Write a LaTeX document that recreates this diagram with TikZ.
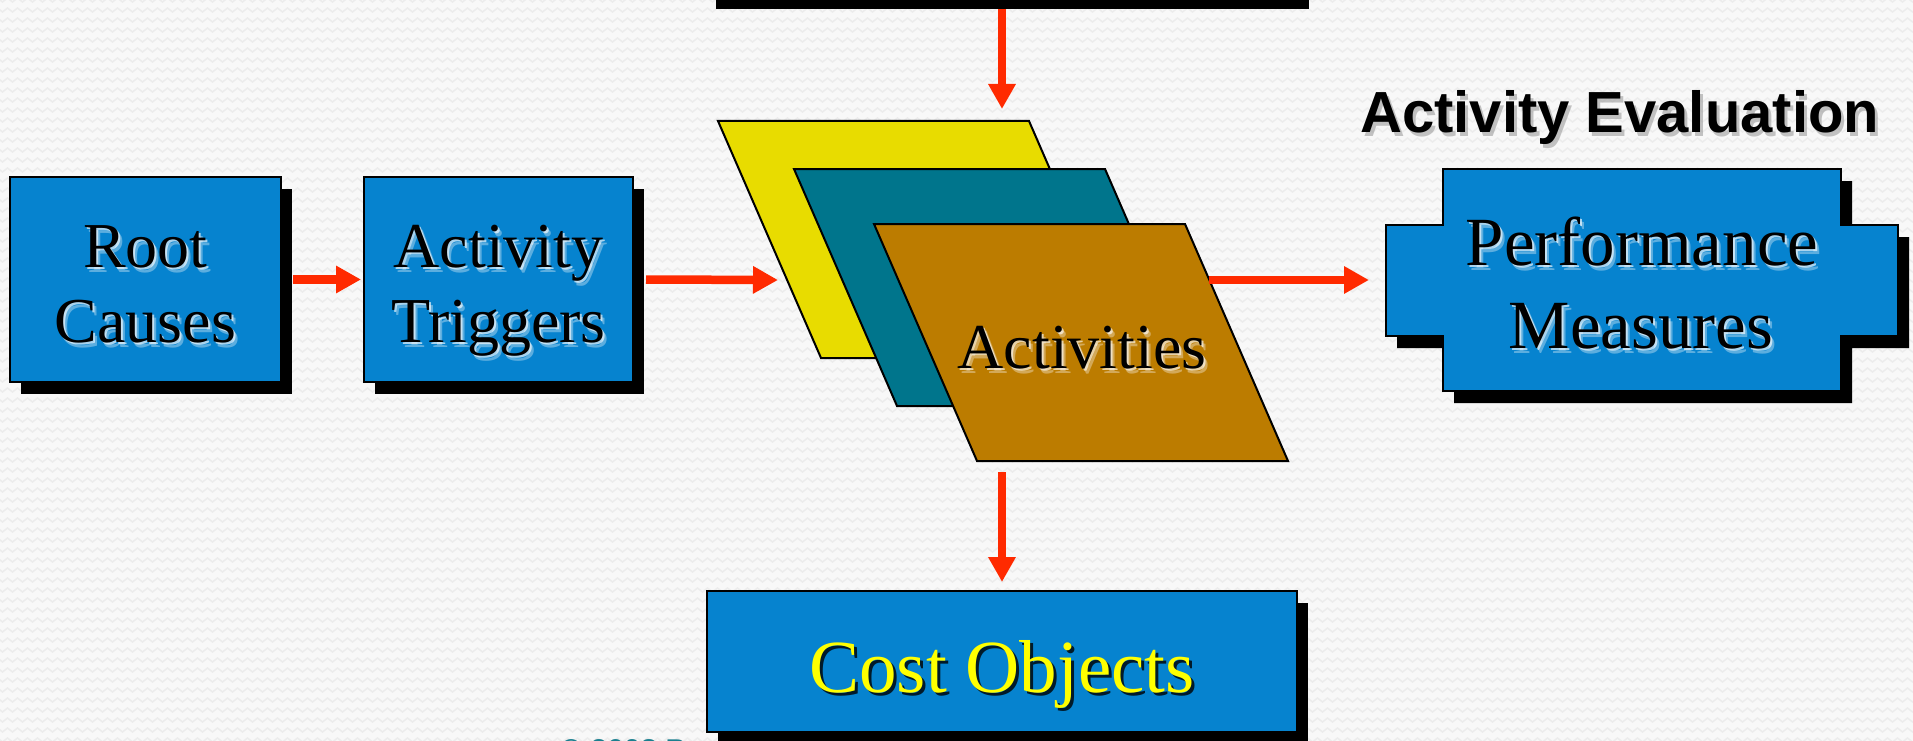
\documentclass[tikz,border=0pt]{standalone}
\usepackage{fontspec}
\setmainfont{Liberation Serif}
\newfontfamily\headfont{Liberation Sans}
\usetikzlibrary{arrows.meta,calc,shadows,decorations.pathmorphing}

\definecolor{paper}{HTML}{F8F8F8}
\definecolor{weave}{HTML}{ECECEC}
\definecolor{boxblue}{HTML}{0683CF}
\definecolor{flowred}{HTML}{FF2A00}
\definecolor{sheetyellow}{HTML}{E8DC00}
\definecolor{sheetteal}{HTML}{00758C}
\definecolor{sheetbrown}{HTML}{BC7C00}
\definecolor{costyellow}{HTML}{FFFF00}
\definecolor{notecol}{HTML}{1A7F8F}

\tikzset{
  flow/.style={draw=flowred, line width=8.5pt, -{Triangle[length=25pt,width=26pt]}},
  bluebox/.style={rectangle, draw=black, line width=2pt, fill=boxblue, inner sep=0pt,
    drop shadow={shadow xshift=11pt, shadow yshift=-12pt, opacity=1, fill=black}},
  sheet/.style={draw=black, line width=2pt, line join=miter},
  serif63/.style={font=\fontsize{64}{75}\selectfont, text=black, inner sep=0pt},
  serif69/.style={font=\fontsize{69}{83}\selectfont, text=black, inner sep=0pt},
  serif75/.style={font=\fontsize{75}{90}\selectfont, inner sep=0pt},
  heading/.style={font=\headfont\bfseries\fontsize{58}{70}\selectfont, inner sep=0pt},
}

% black label with a soft light halo below right
\newcommand\haloed[4]{%
  \node[#3, text=white, opacity=.35, anchor=base] at ($(#2)+(4,5)$) {#4};
  \node[#3, text=white, opacity=.65, anchor=base] at ($(#2)+(2,2.5)$) {#4};
  \node[#3, anchor=base] (#1) at (#2) {#4};
}

\begin{document}
\begin{tikzpicture}[x=1pt, y=-1pt]
  \clip (0,0) rectangle (1913,741);
  \fill[paper] (0,0) rectangle (1913,741);
  \foreach \r in {0,...,74}
    \draw[weave, line width=1.5pt, decorate,
          decoration={zigzag, segment length=10pt, amplitude=2pt}]
      (-5,\r*10) -- (1920,\r*10);

  % bar across the top edge
  \node[fill=black, minimum width=593pt, minimum height=9pt, inner sep=0pt,
        anchor=north west] (topbar) at (716,0) {};

  % left chain of boxes
  \node[bluebox, minimum width=271pt, minimum height=205pt] (root) at (145.5,279.5) {};
  \node[bluebox, minimum width=269pt, minimum height=205pt] (trig) at (498.5,279.5) {};
  \haloed{rootA}{145.5,267}{serif63}{Root}
  \haloed{rootB}{145.5,342}{serif63}{Causes}
  \haloed{trigA}{498.5,267}{serif63}{Activity}
  \haloed{trigB}{498.5,342}{serif63}{Triggers}

  % stacked activity sheets
  \draw[sheet, fill=sheetyellow] (718,121) -- ++(311,0) -- ++(103,237) -- ++(-311,0) -- cycle;
  \draw[sheet, fill=sheetteal]   (794,169) -- ++(311,0) -- ++(103,237) -- ++(-311,0) -- cycle;
  \draw[sheet, fill=sheetbrown]  (874,224) -- ++(311,0) -- ++(103,237) -- ++(-311,0) -- cycle;
  \haloed{acts}{1082,368}{serif63}{Activities}
  \coordinate (actin)  at (778,280);
  \coordinate (actout) at (1209,280);
  \coordinate (acttop) at (1002,109);
  \coordinate (actbot) at (1002,472);

  % evaluation block
  \node[heading, text=black!45, opacity=.5, anchor=base west] at (1363,136) {Activity Evaluation};
  \node[heading, anchor=base west] (evalhead) at (1360,132) {Activity Evaluation};
  \fill[black] (1454,181) -- (1852,181) -- (1852,237) -- (1909,237) -- (1909,348)
    -- (1852,348) -- (1852,403) -- (1454,403) -- (1454,348) -- (1397,348)
    -- (1397,237) -- (1454,237) -- cycle;
  \draw[line width=2pt, fill=boxblue] (1443,169) -- (1841,169) -- (1841,225) -- (1898,225)
    -- (1898,336) -- (1841,336) -- (1841,391) -- (1443,391) -- (1443,336) -- (1386,336)
    -- (1386,225) -- (1443,225) -- cycle;
  \coordinate (perfin) at (1369,280);
  \haloed{perfA}{1642,265}{serif69}{Performance}
  \haloed{perfB}{1641,348}{serif69}{Measures}

  % cost objects
  \node[bluebox, minimum width=590pt, minimum height=141pt] (cost) at (1002,661.5) {};
  \node[serif75, text=black, opacity=.8, anchor=base] at ($(1002,692)+(3,3.5)$) {Cost Objects};
  \node[serif75, text=costyellow, anchor=base] (costlbl) at (1002,692) {Cost Objects};

  % footer note, mostly below the edge
  \node[font=\headfont\bfseries\fontsize{30}{36}\selectfont, text=notecol, anchor=base west,
        inner sep=0pt] (note) at (560,760) {© 2008 P};

  % connectors
  \draw[flow] ([xshift=11pt]root.east) -- ([xshift=-2pt]trig.west);
  \draw[flow] ([xshift=12pt]trig.east) -- (actin);
  \draw[flow] (actout) -- (perfin);
  \draw[flow] (topbar.south -| acttop) -- (acttop);
  \draw[flow] (actbot) -- ([yshift=8pt]cost.north);
\end{tikzpicture}
\end{document}
